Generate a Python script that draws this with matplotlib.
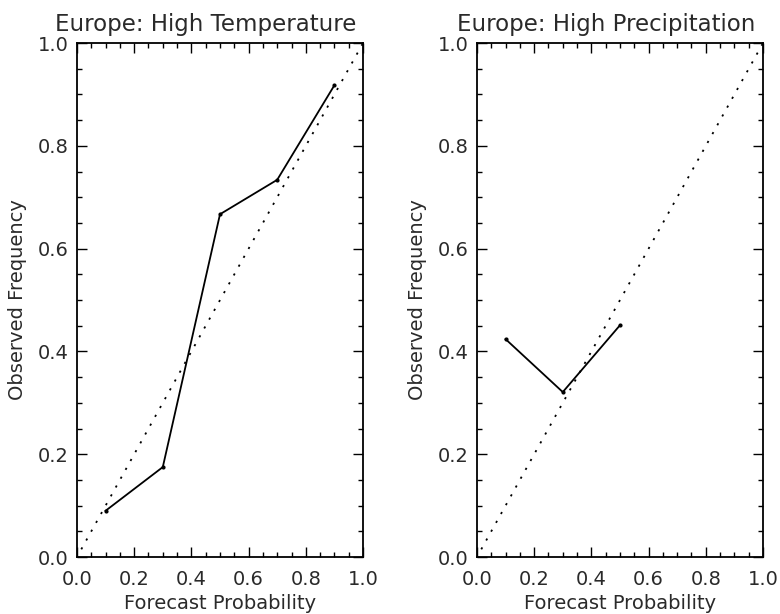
import matplotlib
matplotlib.use("Agg")
import matplotlib.pyplot as plt
from matplotlib.ticker import MultipleLocator

# Reliability diagrams: forecast probability vs observed frequency
temp_prob = [0.1, 0.3, 0.5, 0.7, 0.9]
temp_freq = [0.090, 0.175, 0.667, 0.734, 0.918]

precip_prob = [0.1, 0.3, 0.5]
precip_freq = [0.424, 0.321, 0.451]

titles = ["Europe: High Temperature", "Europe: High Precipitation"]
tick_vals = [0.0, 0.2, 0.4, 0.6, 0.8, 1.0]
tick_labels = ["0.0", "0.2", "0.4", "0.6", "0.8", "1.0"]

plt.rcParams["font.family"] = ["DejaVu Sans"]
text_color = "#2a2a2a"

fig = plt.figure(figsize=(7.8, 6.14), dpi=100)
axes = [fig.add_axes([0.0987, 0.0928, 0.3667, 0.837]),
        fig.add_axes([0.6115, 0.0928, 0.3667, 0.837])]

series = [(temp_prob, temp_freq), (precip_prob, precip_freq)]

for ax, title, (xp, yf) in zip(axes, titles, series):
    ax.plot([0.015, 1], [0.015, 1], color="black", linestyle=(0, (1.2, 4.4)),
            linewidth=1.3)
    ax.plot(xp, yf, color="black", linewidth=1.3, marker="o", markersize=2)
    ax.set_xlim(0, 1)
    ax.set_ylim(0, 1)
    ax.set_xticks(tick_vals)
    ax.set_xticklabels(tick_labels)
    ax.set_yticks(tick_vals)
    ax.set_yticklabels(tick_labels)
    ax.xaxis.set_minor_locator(MultipleLocator(0.05))
    ax.yaxis.set_minor_locator(MultipleLocator(0.05))
    ax.tick_params(which="both", direction="in", top=True, right=True,
                   width=1.0, color="black", labelcolor=text_color,
                   labelsize=14)
    ax.tick_params(which="major", length=7.5)
    ax.tick_params(which="minor", length=3.8)
    ax.tick_params(axis="x", which="major", pad=9)
    ax.tick_params(axis="y", which="major", pad=6)
    for s in ax.spines.values():
        s.set_linewidth(1.3)
    ax.set_title(title, fontsize=16.5, pad=9, color=text_color, x=0.451)
    ax.set_xlabel("Forecast Probability", fontsize=14, labelpad=4,
                  color=text_color)
    ax.set_ylabel("Observed Frequency", fontsize=14, labelpad=8,
                  color=text_color)

fig.savefig("out.png", dpi=100)
